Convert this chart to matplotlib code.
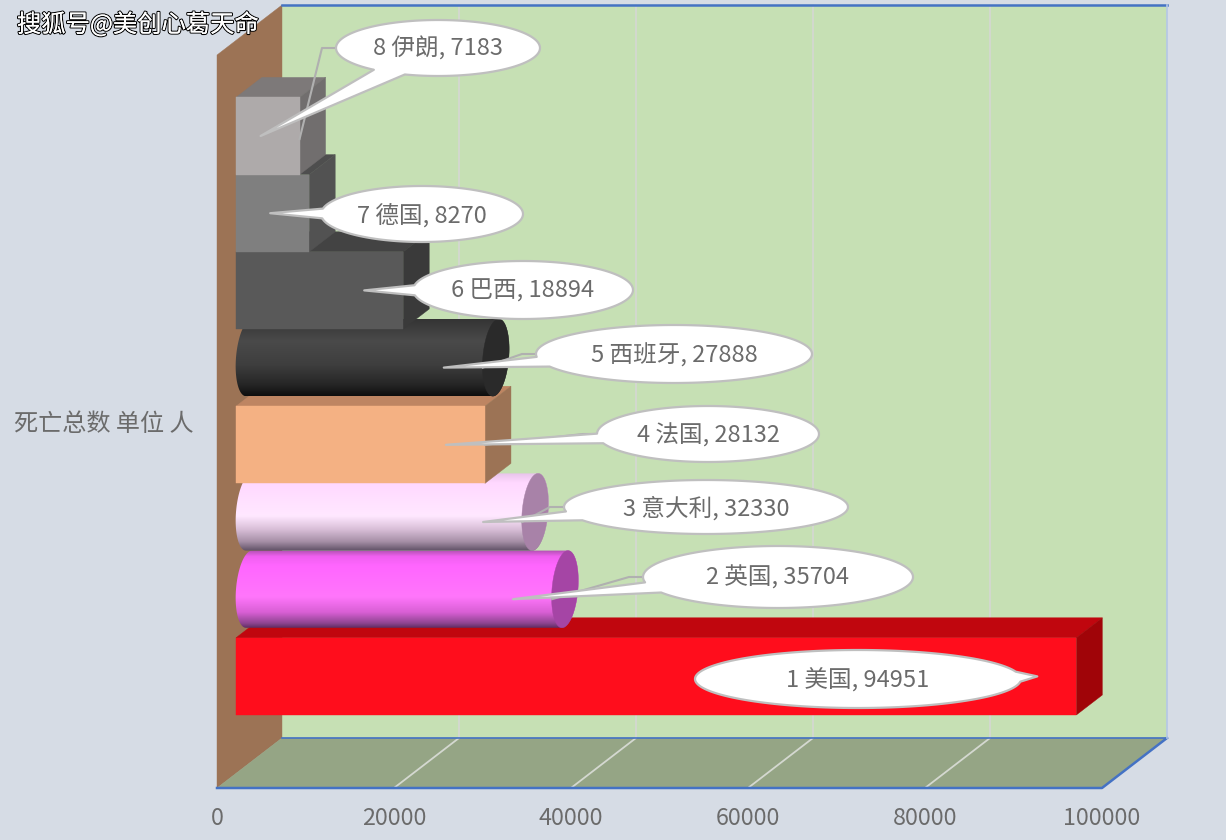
import numpy as np
import matplotlib
matplotlib.use("Agg")
import matplotlib.pyplot as plt
from matplotlib.colors import LinearSegmentedColormap
from matplotlib.patches import Polygon
import matplotlib.patheffects as pe

# ---- data ----
ranks = [1, 2, 3, 4, 5, 6, 7, 8]
countries = ["美国", "英国", "意大利", "法国", "西班牙", "巴西", "德国", "伊朗"]
deaths = [94951, 35704, 32330, 28132, 27888, 18894, 8270, 7183]
x_ticks = [0, 20000, 40000, 60000, 80000, 100000]
y_label = "死亡总数 单位 人"
watermark = "搜狐号@美创心葛天命"

# ---- styles ----
shapes = ["box", "cyl", "cyl", "box", "cyl", "box", "box", "box"]
box_colors = {
    0: ("#FF0D1C", "#C0060E", "#A00408"),
    3: ("#F4B183", "#BE8562", "#9C7355"),
    5: ("#595959", "#434343", "#3A3A3A"),
    6: ("#7F7F7F", "#4E4E4E", "#525252"),
    7: ("#AEAAAA", "#7D7979", "#716E6E"),
}
cyl_colors = {
    1: ([(0, "#B050B0"), (.08, "#F060F0"), (.2, "#FF66FF"), (.6, "#FF76FB"), (.8, "#D85FD4"), (.94, "#8E4490"), (1, "#5E2C62")], "#A545A5"),
    2: ([(0, "#E8C4EA"), (.12, "#FFD8FF"), (.55, "#FFE8FF"), (.72, "#D9BFD8"), (.88, "#A68FA6"), (1, "#5F5065")], "#A882A8"),
    4: ([(0, "#333333"), (.3, "#4A4A4A"), (.6, "#3E3E3E"), (.85, "#262626"), (1, "#0E0E0E")], "#2A2A2A"),
}
# callout ellipses: centre x, centre y, radius x, radius y (pixels)
callouts = [
    (858, 679, 163, 29), (778, 577, 135, 31), (706, 507, 142, 27), (708, 434, 111, 28),
    (674, 354, 138, 29), (523, 290, 110, 29), (422, 214, 101, 28), (438, 48, 102, 28),
]
FONT = ["Noto Sans CJK SC", "DejaVu Sans"]
TXT = "#6B6B6B"
W, H = 1226, 840
L, R, T, B = 217, 1102, 5, 788
PX = (R - L) / 100000      # pixels per death
UY = 77.2                  # pixels per category slot
Y0 = 715                   # pixel row of slot 0 bottom

fig = plt.figure(figsize=(W / 100, H / 100), dpi=100, facecolor="#D6DCE5")
ax = fig.add_axes([L / W, 1 - B / H, (R - L) / W, (B - T) / H])
ax.patch.set_alpha(0)
for s in ax.spines.values():
    s.set_visible(False)


def xd(px):
    return (px - L) / PX


def yd(py):
    return (Y0 - py) / UY


def dx(px):
    return px / PX


def dy(px):
    return px / UY


def fill(xs, ys, color, z):
    ax.add_patch(Polygon(np.column_stack([xs, ys]), closed=True, fc=color, ec=color, lw=0.3, zorder=z, clip_on=False))


# ---- walls and floor ----
yb, yt = yd(B), yd(T)
wx, wy = dx(65), dy(50)
ytop = yd(5)
fill([wx, wx + 100000, wx + 100000, wx], [yb + wy, yb + wy, ytop, ytop], "#C6E0B4", 1)
fill([0, wx, wx, 0], [yb, yb + wy, ytop, ytop - wy], "#9C7355", 2)
fill([0, 100000, 100000 + wx, wx], [yb, yb, yb + wy, yb + wy], "#95A585", 2)
for t in x_ticks[1:-1]:
    ax.plot([t, t + wx, t + wx], [yb, yb + wy, ytop], color="#D4D8D0", lw=1.3, zorder=3, clip_on=False)
blue = "#4472C4"
ax.plot([wx, wx + 100000], [ytop, ytop], color=blue, lw=1.8, zorder=3, clip_on=False)
ax.plot([wx, wx + 100000], [yb + wy, yb + wy], color=blue, lw=1.2, zorder=3, clip_on=False)
ax.plot([0, 100000, 100000 + wx], [yb, yb, yb + wy], color=blue, lw=1.8, zorder=3, clip_on=False)
ax.plot([100000 + wx] * 2, [yb + wy, ytop], color="#B4C7E7", lw=1.2, zorder=3, clip_on=False)

# ---- bars ----
x0 = dx(19)
ddx, ddy = dx(26), dy(20)


def ell(cx, cy, ts, rx=13.0, ry=UY / 2, sk=3.0):
    """Ellipse points in data units around a data-space centre."""
    return (cx + dx(rx) * np.cos(ts) + dx(sk) * np.sin(ts),
            cy + dy(ry) * np.sin(ts))


for i, v in enumerate(deaths):
    z = 10 + i * 3
    xe = x0 + v
    if shapes[i] == "box":
        face, top, side = box_colors[i]
        fill([x0, x0 + ddx, xe + ddx, xe], [i + 1, i + 1 + ddy, i + 1 + ddy, i + 1], top, z)
        fill([xe, xe + ddx, xe + ddx, xe], [i, i + ddy, i + 1 + ddy, i + 1], side, z)
        fill([x0, xe, xe, x0], [i, i, i + 1, i + 1], face, z + 1)
    else:
        stops, cap = cyl_colors[i]
        cxl, cxr = x0 + ddx / 2, xe + ddx / 2
        cy = i + 0.5 + ddy / 2
        lx, ly = ell(cxl, cy, np.linspace(np.pi / 2, 3 * np.pi / 2, 60))
        rx_, ry_ = ell(cxr, cy, np.linspace(-np.pi / 2, np.pi / 2, 60))
        outline = np.column_stack([np.r_[lx, rx_], np.r_[ly, ry_]])
        clip = Polygon(outline, closed=True, fc="none", ec="none", zorder=z, clip_on=False)
        ax.add_patch(clip)
        cmap = LinearSegmentedColormap.from_list("g%d" % i, stops)
        grad = np.linspace(0, 1, 256).reshape(-1, 1)
        im = ax.imshow(grad, cmap=cmap, aspect="auto", origin="upper", zorder=z,
                       extent=(x0 - dx(2), cxr + dx(20), cy - 0.5, cy + 0.5), interpolation="bilinear")
        im.set_clip_box(fig.bbox)
        im.set_clip_path(clip)
        cxs, cys = ell(cxr, cy, np.linspace(0, 2 * np.pi, 90))
        fill(cxs, cys, cap, z + 1)

# ---- callouts ----
GREY = "#BFBFBF"
for i, (v, (cx, cy, rx, ry)) in enumerate(zip(deaths, callouts)):
    bar_px = L + 19 + v * PX
    slot_py = Y0 - (i + 0.5) * UY
    tip = (bar_px - 39, slot_py)
    # leader line behind the balloon
    if i > 0:
        ax.plot([xd(cx - rx), xd(cx - rx - 14), xd(bar_px)],
                [yd(cy), yd(cy), yd(slot_py + (3 if i == 7 else 0))],
                color="#B0B0B0", lw=1.5, zorder=40, clip_on=False)
    ang = np.arctan2(-(tip[1] - cy) / ry, (tip[0] - cx) / rx)
    half = np.radians(10)
    ts = np.linspace(ang + half, ang + 2 * np.pi - half, 160)
    ex = np.r_[cx + rx * np.cos(ts), tip[0]]
    ey = np.r_[cy - ry * np.sin(ts), tip[1]]
    ax.add_patch(Polygon(np.column_stack([xd(ex), yd(ey)]), closed=True, fc="white", ec=GREY,
                         lw=1.6, zorder=41 + i, clip_on=False, joinstyle="round"))
    ax.text(xd(cx), yd(cy + 1), f"{ranks[i]} {countries[i]}, {v}", ha="center", va="center",
            fontsize=17, color=TXT, family=FONT, zorder=60)

# ---- axes ----
ax.set_xlim(0, 100000)
ax.set_ylim(yb, yt)
ax.set_xticks(x_ticks)
ax.set_xticklabels([str(t) for t in x_ticks], fontsize=16.8, color=TXT, family=FONT)
ax.set_yticks([yd(421)])
ax.set_yticklabels([y_label], fontsize=17.4, color=TXT, family=FONT)
ax.tick_params(axis="x", length=0, pad=14)
ax.tick_params(axis="y", length=0, pad=17)

# ---- watermark ----
fig.text(17 / W, 1 - 25 / H, watermark, ha="left", va="center", fontsize=17.5, color="white",
         family=FONT, fontweight="medium", zorder=100,
         path_effects=[pe.withStroke(linewidth=1.6, foreground="black"), pe.Normal()])

fig.savefig("out.png", dpi=100, facecolor=fig.get_facecolor())
